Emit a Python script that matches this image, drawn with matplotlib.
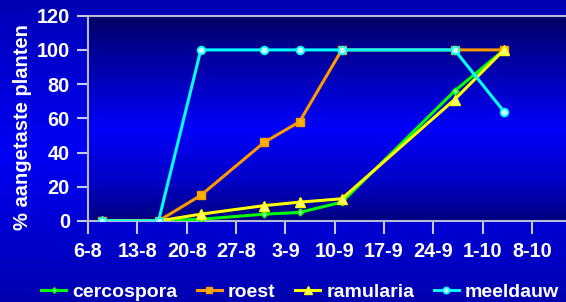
import numpy as np
import pandas as pd
import matplotlib
matplotlib.use("Agg")
import matplotlib.pyplot as plt
from matplotlib.colors import LinearSegmentedColormap

plt.rcParams['font.family'] = ['Liberation Sans', 'DejaVu Sans']
plt.rcParams['font.weight'] = 'bold'

# observation dates and % infected plants
dates = pd.to_datetime(["2004-08-08", "2004-08-16", "2004-08-22", "2004-08-31",
                        "2004-09-05", "2004-09-11", "2004-09-27", "2004-10-04"])
cercospora = [0, 0, 1, 4, 5, 11, 76, 100]
roest = [0, 0, 15, 46, 58, 100, 100, 100]
ramularia = [0, 0, 4, 9, 11, 13, 71, 100]
meeldauw = [0, 0, 100, 100, 100, 100, 100, 64]

tick_dates = pd.date_range("2004-08-06", "2004-10-08", freq="7D")
tick_labels = [f"{d.day}-{d.month}" for d in tick_dates]

fig = plt.figure(figsize=(5.66, 3.02), dpi=100)

# outer background gradient
bg = fig.add_axes([0, 0, 1, 1], zorder=-10)
outer_cmap = LinearSegmentedColormap.from_list(
    "outer", [(0, "#0000B0"), (0.5, "#0000F5"), (1, "#0000B4")])
bg.imshow(np.linspace(0, 1, 256).reshape(-1, 1), aspect='auto', cmap=outer_cmap,
          origin='lower', extent=(0, 1, 0, 1))
bg.axis('off')

ax = fig.add_axes([88/566, 1-221/302, 1-88/566, (221-15.7)/302])
ax.set_facecolor('none')
inner_cmap = LinearSegmentedColormap.from_list(
    "inner", [(0, "#000080"), (0.2, "#0000C8"), (0.45, "#0000FA"), (1, "#000066")])
ax.imshow(np.linspace(0, 1, 256).reshape(-1, 1), aspect='auto', cmap=inner_cmap,
          origin='lower', extent=(0, 1, 0, 1), transform=ax.transAxes, zorder=0)

ax.plot(dates, cercospora, color='#00FF00', lw=2.2, marker='D', ms=3.5,
        mfc='#90FF90', mec='#00FF00', label='cercospora', zorder=3)
ax.plot(dates, roest, color='#FF9900', lw=2.2, marker='s', ms=5.5,
        mfc='#FFB000', mec='#FF9900', label='roest', zorder=3)
ax.plot(dates, ramularia, color='#FFFF00', lw=2.2, marker='^', ms=6.5,
        mfc='#FFFF70', mec='#FFFF00', label='ramularia', zorder=3)
ax.plot(dates, meeldauw, color='#00FFFF', lw=2.2, marker='o', ms=5.5,
        mfc='#D0FFFF', mec='#00FFFF', mew=1.3, label='meeldauw', zorder=3)

ax.set_xlim(tick_dates[0], tick_dates[0] + pd.Timedelta(days=67.8))
ax.set_ylim(0, 120)
ax.set_xticks(tick_dates)
ax.set_xticklabels(tick_labels)
ax.set_yticks(range(0, 121, 20))

for s in ['left', 'top', 'bottom']:
    ax.spines[s].set_color('#B8B8D8')
    ax.spines[s].set_linewidth(1.5)
ax.spines['right'].set_visible(False)
ax.tick_params(axis='both', colors='#C8C8E0', width=1.5, labelsize=14.3,
               labelcolor='white')
ax.tick_params(axis='y', length=8, pad=5)
ax.tick_params(axis='x', length=9, pad=6)
for t in ax.get_xticklabels() + ax.get_yticklabels():
    t.set_fontweight('bold')

fig.text(23/566, 1-127/302, "% aangetaste planten", rotation=90, color='white',
         fontsize=14.5, fontweight='bold', ha='center', va='center')

leg = fig.legend(loc='center', bbox_to_anchor=(300/566, 1-292/302), ncol=4,
                 frameon=False, fontsize=14, handlelength=1.3,
                 handletextpad=0.3, columnspacing=1.0, borderaxespad=0,
                 borderpad=0, markerscale=0.8)
for t in leg.get_texts():
    t.set_color('white')
    t.set_fontweight('bold')

fig.savefig("out.png", dpi=100)
